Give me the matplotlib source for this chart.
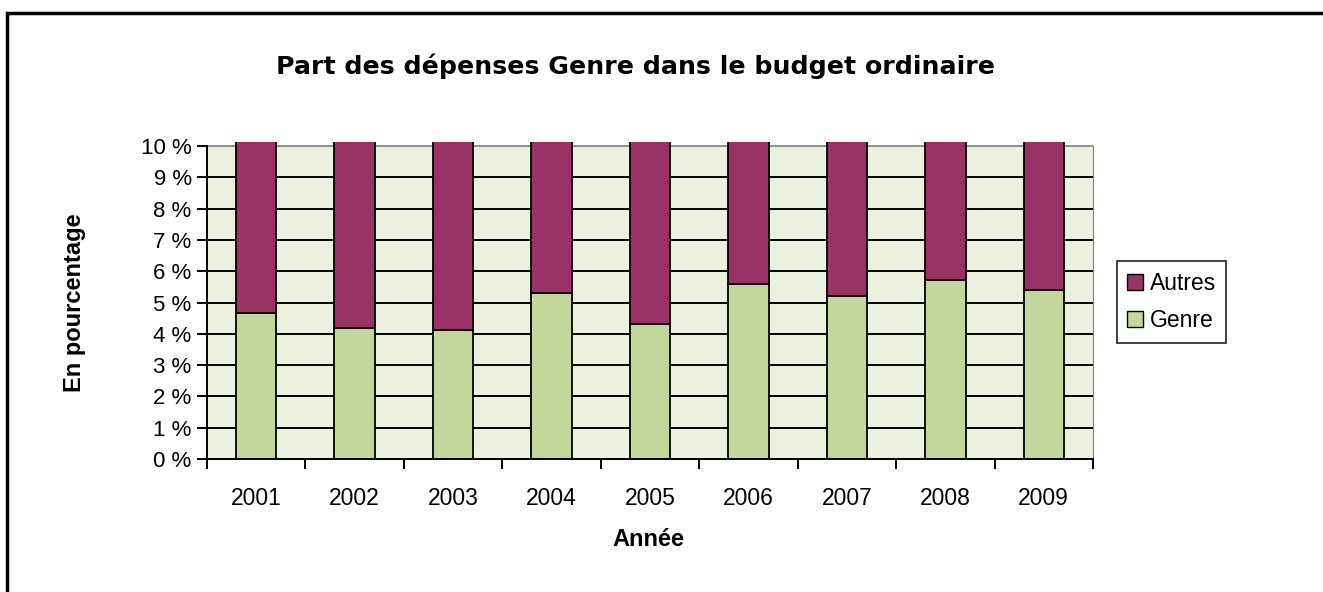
import matplotlib
matplotlib.use("Agg")
import matplotlib.pyplot as plt
from matplotlib.patches import Rectangle, Patch
import numpy as np

years = ["2001", "2002", "2003", "2004", "2005", "2006", "2007", "2008", "2009"]
genre = [4.67, 4.19, 4.11, 5.32, 4.32, 5.59, 5.20, 5.72, 5.40]
autres = [100 - g for g in genre]
yticks = list(range(0, 11))

C_AUTRES = "#993366"
C_GENRE = "#C3D69B"
C_BG = "#EBF1DE"
FONT = "Liberation Sans"

W, H = 1323, 592
fig = plt.figure(figsize=(W / 100, H / 100), dpi=100)
fig.patch.set_facecolor("white")

# outer chart border
fig.add_artist(Rectangle((7 / W, -0.05), 1.2, (592 - 13) / H + 0.05,
                         transform=fig.transFigure, fill=False,
                         edgecolor="black", linewidth=2.5))

left, right = 207 / W, 1093 / W
bottom = (H - 459) / H
top = (H - 142) / H
ax = fig.add_axes([left, bottom, right - left, top - bottom])
ax.set_facecolor("white")

x = np.arange(len(years))
ax.set_xlim(-0.5, len(years) - 0.5)
ax.set_ylim(0, 10.13)

# plot area background (0..10)
ax.axhspan(0, 10, color=C_BG, zorder=0)
for t in yticks[1:-1]:
    ax.axhline(t, color="black", linewidth=1.4, zorder=1)
ax.axhline(10, color="#808080", linewidth=1.2, zorder=1)

ax.bar(x, genre, width=0.41, color=C_GENRE, edgecolor="black", linewidth=1.3, zorder=2, label="Genre")
ax.bar(x, autres, width=0.41, bottom=genre, color=C_AUTRES, edgecolor="black", linewidth=1.3,
       zorder=2, label="Autres")

ax.spines["top"].set_visible(False)
ax.spines["right"].set_bounds(0, 10)
ax.spines["right"].set_color("#808080")
ax.spines["left"].set_bounds(0, 10)
ax.spines["left"].set_linewidth(1.4)
ax.spines["bottom"].set_linewidth(1.4)

ax.set_yticks(yticks)
ax.set_yticklabels([f"{t} %" for t in yticks], fontsize=16, family=FONT)
ax.set_xticks(x)
ax.set_xticklabels(years, fontsize=16.5, family=FONT)
ax.set_xticks(np.arange(-0.5, len(years)), minor=True)
ax.tick_params(axis="x", which="major", length=0, pad=20)
ax.tick_params(axis="x", which="minor", length=7, width=1.4, direction="out")
ax.tick_params(axis="y", length=7, width=1.4, direction="out", pad=4)

fig.text(635 / W, (H - 66) / H, "Part des dépenses Genre dans le budget ordinaire",
         ha="center", va="center", fontsize=18.2, family="DejaVu Sans", fontweight="bold")
fig.text(75 / W, (H - 303) / H, "En pourcentage", rotation=90, ha="center", va="center",
         fontsize=17, family=FONT, fontweight="bold")
fig.text(648 / W, (H - 539) / H, "Année", ha="center", va="center",
         fontsize=17, family=FONT, fontweight="bold")

handles = [Patch(facecolor=C_AUTRES, edgecolor="black", label="Autres"),
           Patch(facecolor=C_GENRE, edgecolor="black", label="Genre")]
leg = fig.legend(handles=handles, loc="center", bbox_to_anchor=(1171.5 / W, (H - 302) / H),
                 prop={"family": FONT, "size": 16.5}, frameon=True, fancybox=False,
                 handlelength=0.7, handleheight=0.7, handletextpad=0.3,
                 borderpad=0.45, labelspacing=0.65, borderaxespad=0)
leg.get_frame().set_edgecolor("black")
leg.get_frame().set_linewidth(1.3)

fig.savefig("out.png", dpi=100)
